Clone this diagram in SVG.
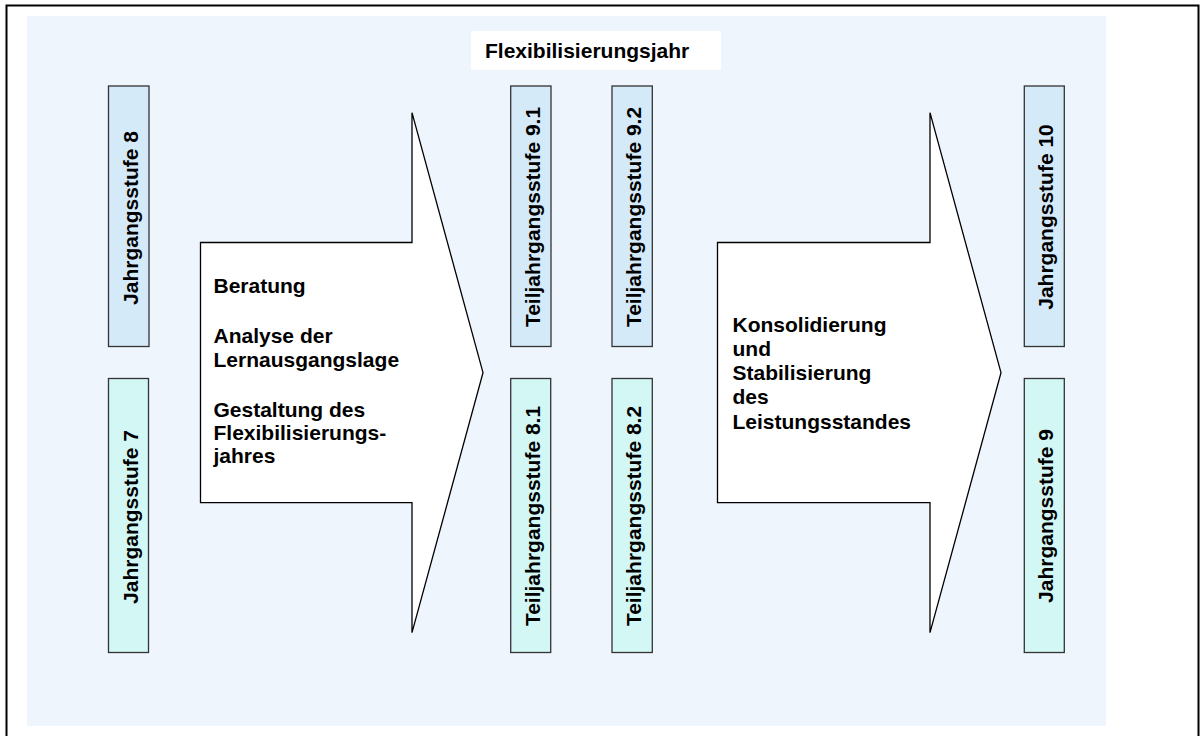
<svg xmlns="http://www.w3.org/2000/svg" width="1201" height="736" viewBox="0 0 1201 736">
<style>
text{font-family:"Liberation Sans",Arial,sans-serif;font-weight:bold;font-size:21px;fill:#000}
.top{fill:#D5EAF8;stroke:#333;stroke-width:1.3}
.bot{fill:#D2F7F5;stroke:#333;stroke-width:1.3}
.arrow{fill:#fff;stroke:#000;stroke-width:1.3}
.v{text-anchor:middle}
</style>
<rect x="0" y="0" width="1201" height="736" fill="#fff"/>
<rect x="6.5" y="5.5" width="1192" height="740" fill="none" stroke="#000" stroke-width="2"/>
<rect x="27" y="16" width="1079" height="710" fill="#EEF5FD"/>
<g id="title">
<rect x="471" y="31" width="250" height="39" fill="#fff"/>
<text x="485" y="57.5">Flexibilisierungsjahr</text>
</g>
<g id="connectors">
<g id="arrow1">
<polygon class="arrow" points="200.5,242.5 412,242.5 412,112.7 483,372.7 412,632.7 412,502.7 200.5,502.7"/>
<text x="213.5" y="293.3">Beratung</text>
<text x="213.5" y="343.3">Analyse der</text>
<text x="213.5" y="366.5">Lernausgangslage</text>
<text x="213.5" y="416.7">Gestaltung des</text>
<text x="213.5" y="440">Flexibilisierungs-</text>
<text x="213.5" y="463">jahres</text>
</g>
<g id="arrow2">
<polygon class="arrow" points="717.5,242.5 930,242.5 930,112.7 1001,372.7 930,632.7 930,502.7 717.5,502.7"/>
<text x="732.5" y="331.7">Konsolidierung</text>
<text x="732.5" y="355.5">und</text>
<text x="732.5" y="380">Stabilisierung</text>
<text x="732.5" y="404">des</text>
<text x="732.5" y="429">Leistungsstandes</text>
</g>
</g>
<g id="jg8">
<rect class="top" x="108.5" y="86" width="40.5" height="260.5"/>
<text class="v" transform="translate(137.5,218) rotate(-90)">Jahrgangsstufe 8</text>
</g>
<g id="jg7">
<rect class="bot" x="108.5" y="378.5" width="40" height="274"/>
<text class="v" transform="translate(137.5,517) rotate(-90)">Jahrgangsstufe 7</text>
</g>
<g id="tj91">
<rect class="top" x="510.7" y="86" width="40.3" height="260.5"/>
<text class="v" transform="translate(539.7,217) rotate(-90)">Teiljahrgangsstufe 9.1</text>
</g>
<g id="tj92">
<rect class="top" x="612" y="86" width="40.3" height="260.5"/>
<text class="v" transform="translate(641,217) rotate(-90)">Teiljahrgangsstufe 9.2</text>
</g>
<g id="tj81">
<rect class="bot" x="510.7" y="378.5" width="40" height="274"/>
<text class="v" transform="translate(539.7,516) rotate(-90)">Teiljahrgangsstufe 8.1</text>
</g>
<g id="tj82">
<rect class="bot" x="612" y="378.5" width="40.3" height="274"/>
<text class="v" transform="translate(641,516) rotate(-90)">Teiljahrgangsstufe 8.2</text>
</g>
<g id="jg10">
<rect class="top" x="1024.3" y="86" width="40" height="260.5"/>
<text class="v" transform="translate(1053.2,217) rotate(-90)">Jahrgangsstufe 10</text>
</g>
<g id="jg9">
<rect class="bot" x="1024.3" y="378.5" width="40" height="274"/>
<text class="v" transform="translate(1053.2,516) rotate(-90)">Jahrgangsstufe 9</text>
</g>
</svg>
